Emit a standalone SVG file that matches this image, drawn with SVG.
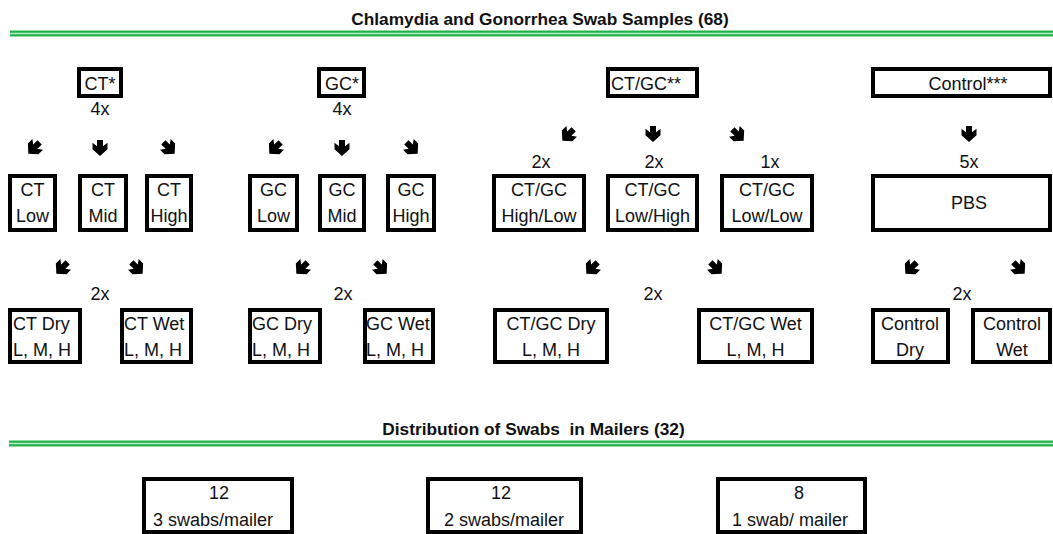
<svg xmlns="http://www.w3.org/2000/svg" width="1053" height="534" viewBox="0 0 1053 534">
<style>
.bx{fill:#fff;stroke:#000;stroke-width:4}
.t{font-family:"Liberation Sans",Arial,sans-serif;font-size:18px;fill:#111}
.c{text-anchor:middle}
.h{font-family:"Liberation Sans",Arial,sans-serif;font-size:17.3px;font-weight:bold;fill:#111;text-anchor:middle}
.gl{fill:#b8e8c4}
.gd{stroke:#1fb24a;stroke-width:2}
.ar{fill:#000}
</style>
<defs>
<path id="dn" d="M-3,-8 L3,-8 L3,-1.8 L7.5,-5.2 L7.5,1.2 L0,8 L-7.5,1.2 L-7.5,-5.2 L-3,-1.8 Z"/>
</defs>
<rect width="1053" height="534" fill="#fff"/>

<g id="title1">
<text class="h" x="540" y="25">Chlamydia and Gonorrhea Swab Samples (68)</text>
<rect class="gl" x="10" y="30" width="1043" height="7"/>
<line class="gd" x1="10" y1="31.7" x2="1053" y2="31.7"/>
<line class="gd" x1="10" y1="35.2" x2="1053" y2="35.2"/>
</g>

<g id="connectors" class="ar">
<use href="#dn" transform="translate(34,148) rotate(45)"/>
<use href="#dn" transform="translate(100,148)"/>
<use href="#dn" transform="translate(169,148) rotate(-45)"/>
<use href="#dn" transform="translate(275,148) rotate(45)"/>
<use href="#dn" transform="translate(342,148)"/>
<use href="#dn" transform="translate(412,148) rotate(-45)"/>
<use href="#dn" transform="translate(568,135) rotate(45)"/>
<use href="#dn" transform="translate(653,134)"/>
<use href="#dn" transform="translate(738,135) rotate(-45)"/>
<use href="#dn" transform="translate(969,134)"/>
<use href="#dn" transform="translate(62,268) rotate(45)"/>
<use href="#dn" transform="translate(137,268) rotate(-45)"/>
<use href="#dn" transform="translate(302,268) rotate(45)"/>
<use href="#dn" transform="translate(381,268) rotate(-45)"/>
<use href="#dn" transform="translate(592,268) rotate(45)"/>
<use href="#dn" transform="translate(716,268) rotate(-45)"/>
<use href="#dn" transform="translate(911,268) rotate(45)"/>
<use href="#dn" transform="translate(1019,268) rotate(-45)"/>
</g>

<g id="multipliers" class="t c">
<text x="100" y="115">4x</text>
<text x="342" y="115">4x</text>
<text x="541" y="168">2x</text>
<text x="654" y="168">2x</text>
<text x="770" y="168">1x</text>
<text x="969" y="168">5x</text>
<text x="100" y="300">2x</text>
<text x="343" y="300">2x</text>
<text x="653" y="300">2x</text>
<text x="962" y="300">2x</text>
</g>

<g id="n-ct"><rect class="bx" x="79" y="69" width="42" height="27"/><text class="t c" x="100" y="90">CT*</text></g>
<g id="n-gc"><rect class="bx" x="319" y="69" width="45" height="27"/><text class="t c" x="342" y="90">GC*</text></g>
<g id="n-ctgc"><rect class="bx" x="608" y="69" width="89" height="27"/><text class="t" x="611" y="90">CT/GC**</text></g>
<g id="n-control"><rect class="bx" x="873" y="69" width="177" height="27"/><text class="t c" x="968" y="90">Control***</text></g>

<g id="n-ct-low"><rect class="bx" x="10" y="176" width="45" height="54"/><text class="t c" x="32.5" y="196">CT</text><text class="t c" x="32.5" y="222">Low</text></g>
<g id="n-ct-mid"><rect class="bx" x="80" y="176" width="46" height="54"/><text class="t c" x="103" y="196">CT</text><text class="t c" x="103" y="222">Mid</text></g>
<g id="n-ct-high"><rect class="bx" x="147" y="176" width="44" height="54"/><text class="t c" x="169" y="196">CT</text><text class="t c" x="169" y="222">High</text></g>
<g id="n-gc-low"><rect class="bx" x="250" y="176" width="47" height="54"/><text class="t c" x="273.5" y="196">GC</text><text class="t c" x="273.5" y="222">Low</text></g>
<g id="n-gc-mid"><rect class="bx" x="320" y="176" width="44" height="54"/><text class="t c" x="342" y="196">GC</text><text class="t c" x="342" y="222">Mid</text></g>
<g id="n-gc-high"><rect class="bx" x="388" y="176" width="46" height="54"/><text class="t c" x="411" y="196">GC</text><text class="t c" x="411" y="222">High</text></g>
<g id="n-ctgc-hl"><rect class="bx" x="494" y="176" width="90" height="54"/><text class="t c" x="539" y="196">CT/GC</text><text class="t c" x="539" y="222">High/Low</text></g>
<g id="n-ctgc-lh"><rect class="bx" x="608" y="176" width="89" height="54"/><text class="t c" x="652.5" y="196">CT/GC</text><text class="t c" x="652.5" y="222">Low/High</text></g>
<g id="n-ctgc-ll"><rect class="bx" x="722" y="176" width="90" height="54"/><text class="t c" x="767" y="196">CT/GC</text><text class="t c" x="767" y="222">Low/Low</text></g>
<g id="n-pbs"><rect class="bx" x="873" y="176" width="177" height="54"/><text class="t c" x="969" y="209">PBS</text></g>

<g id="n-ct-dry"><rect class="bx" x="10" y="310" width="70" height="52"/><text class="t" x="13" y="330">CT Dry</text><text class="t" x="13" y="356">L, M, H</text></g>
<g id="n-ct-wet"><rect class="bx" x="122" y="310" width="69" height="52"/><text class="t" x="124" y="330">CT Wet</text><text class="t" x="124" y="356">L, M, H</text></g>
<g id="n-gc-dry"><rect class="bx" x="250" y="310" width="70" height="52"/><text class="t" x="252" y="330">GC Dry</text><text class="t" x="252" y="356">L, M, H</text></g>
<g id="n-gc-wet"><rect class="bx" x="365" y="310" width="68" height="52"/><text class="t" x="366" y="330">GC Wet</text><text class="t" x="366" y="356">L, M, H</text></g>
<g id="n-ctgc-dry"><rect class="bx" x="495" y="310" width="112" height="52"/><text class="t c" x="551" y="330">CT/GC Dry</text><text class="t c" x="551" y="356">L, M, H</text></g>
<g id="n-ctgc-wet"><rect class="bx" x="699" y="310" width="113" height="52"/><text class="t c" x="755.5" y="330">CT/GC Wet</text><text class="t c" x="755.5" y="356">L, M, H</text></g>
<g id="n-control-dry"><rect class="bx" x="873" y="310" width="75" height="52"/><text class="t c" x="910" y="330">Control</text><text class="t c" x="910" y="356">Dry</text></g>
<g id="n-control-wet"><rect class="bx" x="973" y="310" width="77" height="52"/><text class="t c" x="1012" y="330">Control</text><text class="t c" x="1012" y="356">Wet</text></g>

<g id="title2">
<text class="h" x="533.5" y="435" xml:space="preserve">Distribution of Swabs  in Mailers (32)</text>
<rect class="gl" x="9" y="440" width="1044" height="7"/>
<line class="gd" x1="9" y1="441.7" x2="1053" y2="441.7"/>
<line class="gd" x1="9" y1="445.2" x2="1053" y2="445.2"/>
</g>

<g id="n-mail3"><rect class="bx" x="144" y="479" width="148" height="53"/><text class="t c" x="219" y="499">12</text><text class="t c" x="213" y="526">3 swabs/mailer</text></g>
<g id="n-mail2"><rect class="bx" x="428" y="479" width="153" height="53"/><text class="t c" x="501" y="499">12</text><text class="t c" x="504" y="526">2 swabs/mailer</text></g>
<g id="n-mail1"><rect class="bx" x="718" y="479" width="147" height="53"/><text class="t c" x="799" y="499">8</text><text class="t c" x="790" y="526">1 swab/ mailer</text></g>
</svg>
